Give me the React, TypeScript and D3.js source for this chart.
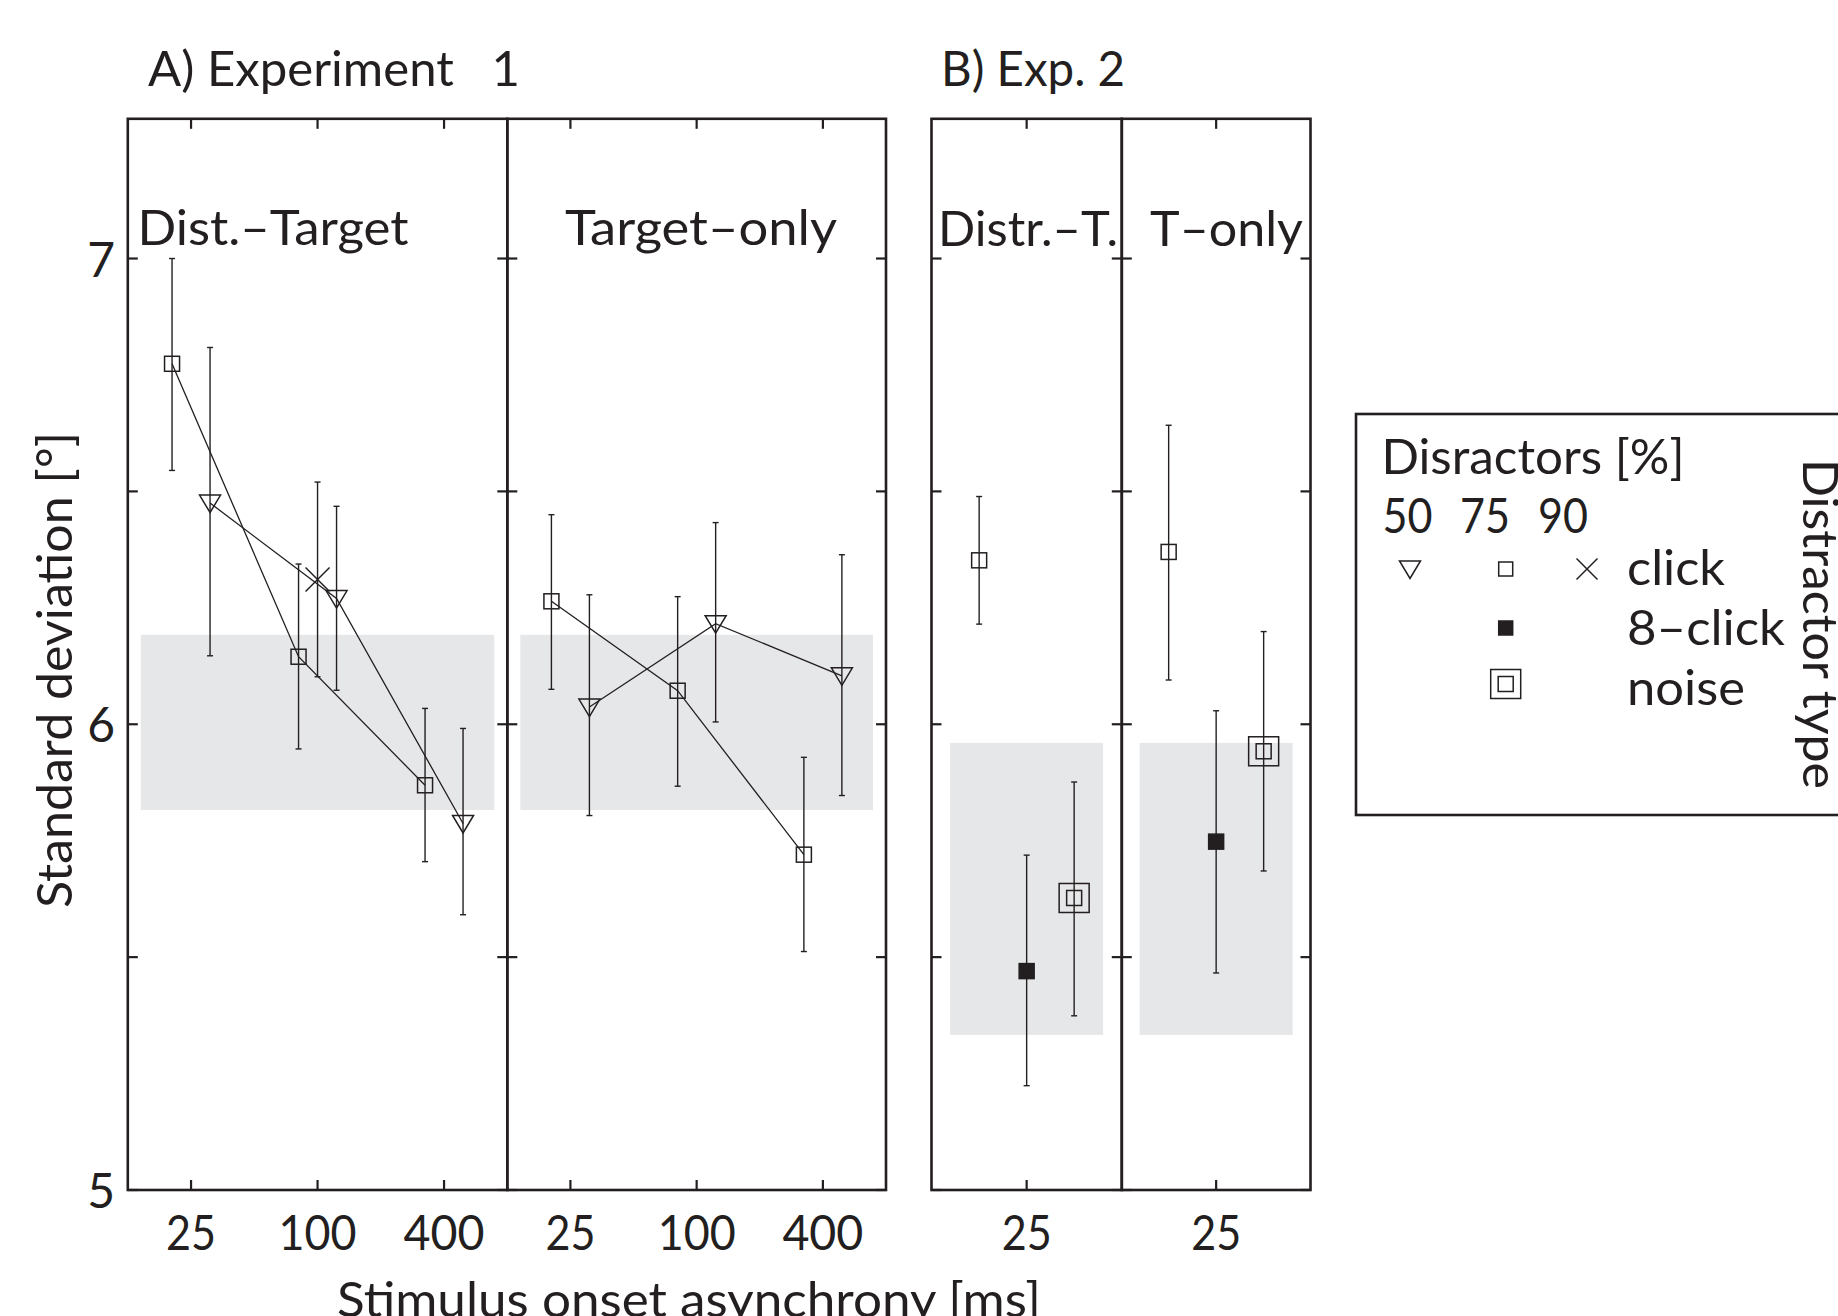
import React from 'react';
import * as d3 from 'd3';

// ---------------- data ----------------
const soaValues = [25, 100, 400];
const soaTickLabels = ['25', '100', '400'];
const exp1PanelNames = ['Dist.–Target', 'Target–only'];
const exp2PanelNames = ['Distr.–T.', 'T–only'];
const exp2Types = ['click', '8–click', 'noise'];
const legendPercents = ['50', '75', '90'];

// Experiment 1, Distractor–Target
const e1DT50Mean = [6.475, 6.27, 5.787];
const e1DT50Lo = [6.147, 6.073, 5.591];
const e1DT50Hi = [6.809, 6.468, 5.991];
const e1DT75Mean = [6.774, 6.145, 5.869];
const e1DT75Lo = [6.545, 5.947, 5.705];
const e1DT75Hi = [7.0, 6.344, 6.034];
const e1DT90Soa = [100];
const e1DT90Mean = [6.311];
const e1DT90Lo = [6.102];
const e1DT90Hi = [6.52];

// Experiment 1, Target-only
const e1TO50Mean = [6.037, 6.216, 6.104];
const e1TO50Lo = [5.804, 6.005, 5.847];
const e1TO50Hi = [6.278, 6.433, 6.364];
const e1TO75Mean = [6.264, 6.072, 5.72];
const e1TO75Lo = [6.075, 5.867, 5.512];
const e1TO75Hi = [6.45, 6.274, 5.929];

// Experiment 2 (SOA 25 ms): click(75%), 8-click, noise
const e2DTMean = [6.352, 5.47, 5.627];
const e2DTLo = [6.215, 5.224, 5.374];
const e2DTHi = [6.489, 5.719, 5.876];
const e2TOMean = [6.37, 5.748, 5.942];
const e2TOLo = [6.095, 5.466, 5.685];
const e2TOHi = [6.642, 6.029, 6.199];

// reference (shaded) ranges
const e1Band = [5.816, 6.192];
const e2Band = [5.333, 5.96];

const yTickValues = [5, 5.5, 6, 6.5, 7];
const yTickLabels = ['5', '', '6', '', '7'];

// ---------------- style / layout ----------------
const INK = '#231f20';
const SHADE = '#e6e7e8';
const FONT = 'Lato, "Open Sans", sans-serif';
const FS = 48;
const W = 1838;
const H = 1316;
const TOP = 118.8;
const BOTTOM = 1190;
const A_X = [127.8, 507.3, 886];
const B_X = [931.5, 1121.8, 1310.5];
const TICK = 10;
const DODGE: Record<number, number> = { 50: 19, 75: -19, 90: 0 };

const y = d3.scaleLinear().domain([5, 7.3]).range([BOTTOM, TOP]);

type Pt = { x: number; m: number; lo: number; hi: number };

const Tri = ({ x, y: cy, s = 1 }: { x: number; y: number; s?: number }) => {
  const w = 10.5 * s, t = 8 * s, b = 9.5 * s;
  return (
    <polygon
      points={`${x - w},${cy - t} ${x + w},${cy - t} ${x},${cy + b}`}
      fill="none"
      stroke={INK}
      strokeWidth={1.5}
    />
  );
};
const Sq = ({ x, y: cy, size = 15, fill = 'none' }: { x: number; y: number; size?: number; fill?: string }) => (
  <rect x={x - size / 2} y={cy - size / 2} width={size} height={size} fill={fill} stroke={INK} strokeWidth={1.5} />
);
const Cross = ({ x, y: cy, r = 12 }: { x: number; y: number; r?: number }) => (
  <path d={`M${x - r},${cy - r}L${x + r},${cy + r}M${x - r},${cy + r}L${x + r},${cy - r}`} stroke={INK} strokeWidth={1.5} fill="none" />
);
const Noise = ({ x, y: cy }: { x: number; y: number }) => (
  <g>
    <rect x={x - 15} y={cy - 14.5} width={30} height={29} fill="none" stroke={INK} strokeWidth={1.5} />
    <rect x={x - 7.5} y={cy - 7.5} width={15} height={15} fill="none" stroke={INK} strokeWidth={1.5} />
  </g>
);

const ErrBars = ({ pts }: { pts: Pt[] }) => (
  <g stroke={INK} strokeWidth={1.4}>
    {pts.map((p, i) => (
      <g key={i}>
        <line x1={p.x} x2={p.x} y1={y(p.lo)} y2={y(p.hi)} />
        <line x1={p.x - 3} x2={p.x + 3} y1={y(p.lo)} y2={y(p.lo)} />
        <line x1={p.x - 3} x2={p.x + 3} y1={y(p.hi)} y2={y(p.hi)} />
      </g>
    ))}
  </g>
);

const lineGen = d3
  .line<Pt>()
  .x((d) => d.x)
  .y((d) => y(d.m));

const Txt = (props: any) => {
  const { children, len, ...rest } = props;
  return (
    <text
      fontFamily={FONT}
      fontSize={FS}
      fill={INK}
      textLength={len}
      lengthAdjust={len ? 'spacingAndGlyphs' : undefined}
      {...rest}
    >
      {children}
    </text>
  );
};

function Frame({ x0, x1, xTicks }: { x0: number; x1: number; xTicks: number[] }) {
  return (
    <g stroke={INK} strokeWidth={2.2} fill="none">
      {yTickValues.map((v) => (
        <g key={v}>
          <line x1={x0} x2={x0 + TICK} y1={y(v)} y2={y(v)} />
          <line x1={x1 - TICK} x2={x1} y1={y(v)} y2={y(v)} />
        </g>
      ))}
      {xTicks.map((t, i) => (
        <g key={i}>
          <line x1={t} x2={t} y1={TOP} y2={TOP + TICK} />
          <line x1={t} x2={t} y1={BOTTOM - TICK} y2={BOTTOM} />
        </g>
      ))}
      <rect x={x0} y={TOP} width={x1 - x0} height={BOTTOM - TOP} strokeWidth={2.6} />
    </g>
  );
}

function Exp1Panel({ idx }: { idx: number }) {
  const x0 = A_X[idx];
  const x1 = A_X[idx + 1];
  const x = d3.scaleLog().base(4).domain([12.5, 800]).range([x0, x1]);
  const mk = (soa: number[], m: number[], lo: number[], hi: number[], pct: number): Pt[] =>
    soa.map((s, i) => ({ x: x(s) + DODGE[pct], m: m[i], lo: lo[i], hi: hi[i] }));
  const s50 = idx === 0 ? mk(soaValues, e1DT50Mean, e1DT50Lo, e1DT50Hi, 50) : mk(soaValues, e1TO50Mean, e1TO50Lo, e1TO50Hi, 50);
  const s75 = idx === 0 ? mk(soaValues, e1DT75Mean, e1DT75Lo, e1DT75Hi, 75) : mk(soaValues, e1TO75Mean, e1TO75Lo, e1TO75Hi, 75);
  const s90 = idx === 0 ? mk(e1DT90Soa, e1DT90Mean, e1DT90Lo, e1DT90Hi, 90) : [];
  const labelLens = [271, 272];
  const labelX = [137.5, 565];
  return (
    <g>
      <rect x={x0 + 13} y={y(e1Band[1])} width={x1 - x0 - 26} height={y(e1Band[0]) - y(e1Band[1])} fill={SHADE} />
      <ErrBars pts={[...s75, ...s50, ...s90]} />
      <path d={lineGen(s75) || ''} fill="none" stroke={INK} strokeWidth={1.3} />
      <path d={lineGen(s50) || ''} fill="none" stroke={INK} strokeWidth={1.3} />
      {s75.map((p, i) => <Sq key={'s' + i} x={p.x} y={y(p.m)} />)}
      {s50.map((p, i) => <Tri key={'t' + i} x={p.x} y={y(p.m)} />)}
      {s90.map((p, i) => <Cross key={'c' + i} x={p.x} y={y(p.m)} />)}
      <Frame x0={x0} x1={x1} xTicks={soaValues.map((s) => x(s))} />
      <Txt x={labelX[idx]} y={245} len={labelLens[idx]}>{exp1PanelNames[idx]}</Txt>
      {soaValues.map((s, i) => (
        <Txt key={s} x={x(s)} y={1250} textAnchor="middle" len={[50, 78, 81][i]}>{soaTickLabels[i]}</Txt>
      ))}
    </g>
  );
}

function Exp2Panel({ idx }: { idx: number }) {
  const x0 = B_X[idx];
  const x1 = B_X[idx + 1];
  const c = (x0 + x1) / 2;
  const xp = d3.scalePoint<string>().domain(exp2Types).range([c - 47.5, c + 47.5]);
  const m = idx === 0 ? e2DTMean : e2TOMean;
  const lo = idx === 0 ? e2DTLo : e2TOLo;
  const hi = idx === 0 ? e2DTHi : e2TOHi;
  const pts: Pt[] = exp2Types.map((t, i) => ({ x: xp(t) as number, m: m[i], lo: lo[i], hi: hi[i] }));
  const labelX = [938, 1150];
  const labelLens = [180, 153];
  return (
    <g>
      <rect
        x={(xp(exp2Types[0]) as number) - 29}
        y={y(e2Band[1])}
        width={(xp(exp2Types[2]) as number) - (xp(exp2Types[0]) as number) + 58}
        height={y(e2Band[0]) - y(e2Band[1])}
        fill={SHADE}
      />
      <ErrBars pts={pts} />
      <Sq x={pts[0].x} y={y(pts[0].m)} />
      <Sq x={pts[1].x} y={y(pts[1].m)} fill={INK} />
      <Noise x={pts[2].x} y={y(pts[2].m)} />
      <Frame x0={x0} x1={x1} xTicks={[c]} />
      <Txt x={labelX[idx]} y={246} len={labelLens[idx]}>{exp2PanelNames[idx]}</Txt>
      <Txt x={c} y={1250} textAnchor="middle" len={50}>{soaTickLabels[0]}</Txt>
    </g>
  );
}

function Legend() {
  const rowY = [569, 628, 684];
  const colX = [1410, 1505.7, 1587];
  return (
    <g>
      <rect x={1356} y={414} width={600} height={401} fill="none" stroke={INK} strokeWidth={2.6} />
      <Txt x={1381.5} y={474} len={303}>Disractors [%]</Txt>
      {legendPercents.map((p, i) => (
        <Txt key={p} x={[1407.5, 1485, 1563][i]} y={533} textAnchor="middle" len={50}>{p}</Txt>
      ))}
      <Tri x={colX[0]} y={rowY[0]} s={1} />
      <Sq x={colX[1]} y={rowY[0]} size={14} />
      <Cross x={colX[2]} y={rowY[0]} r={10.5} />
      <Sq x={colX[1]} y={rowY[1]} size={14} fill={INK} />
      <Noise x={colX[1]} y={rowY[2]} />
      <Txt x={1627} y={585} len={98}>{exp2Types[0]}</Txt>
      <Txt x={1627} y={645} len={158}>{exp2Types[1]}</Txt>
      <Txt x={1627} y={705} len={118}>{exp2Types[2]}</Txt>
      <Txt transform="translate(1803,624) rotate(90)" x={0} y={0} textAnchor="middle" len={330}>Distractor type</Txt>
    </g>
  );
}

export default function App() {
  return (
    <svg width={W} height={H} viewBox={`0 0 ${W} ${H}`} style={{ position: 'absolute', left: 0, top: 0, background: '#fff' }}>
      <rect width={W} height={H} fill="#fff" />
      <Txt x={148} y={86} len={372}>{'A) Experiment\u00A0\u00A0\u00A01'}</Txt>
      <Txt x={941} y={86} len={184}>B) Exp. 2</Txt>
      <Exp1Panel idx={0} />
      <Exp1Panel idx={1} />
      <Exp2Panel idx={0} />
      <Exp2Panel idx={1} />
      {yTickValues.map((v, i) =>
        yTickLabels[i] ? (
          <Txt key={v} x={115} y={y(v) + 18} textAnchor="end">{yTickLabels[i]}</Txt>
        ) : null
      )}
      <Txt transform="translate(72,670) rotate(-90)" x={0} y={0} textAnchor="middle" len={476}>Standard deviation [°]</Txt>
      <Txt x={689} y={1317} textAnchor="middle" len={704}>Stimulus onset asynchrony [ms]</Txt>
      <Legend />
    </svg>
  );
}
